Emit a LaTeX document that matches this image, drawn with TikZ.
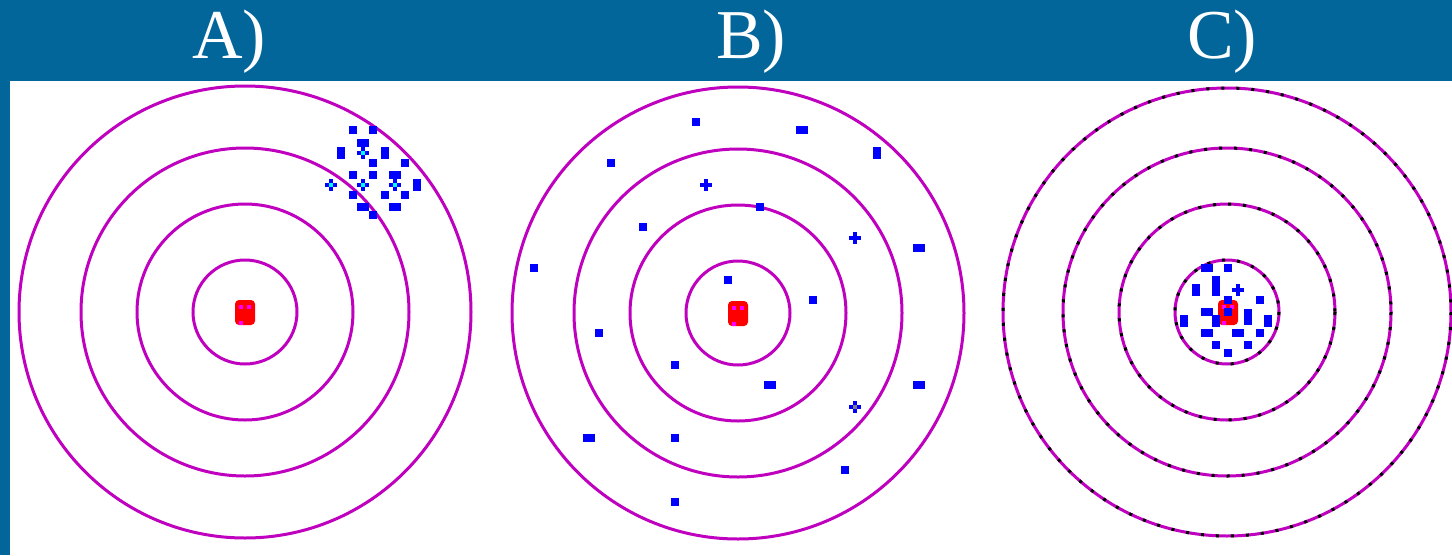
\documentclass[tikz,border=0pt]{standalone}
\usepackage{fontspec}
\setmainfont{Liberation Serif}
\definecolor{hdr}{HTML}{02669A}
\definecolor{ringc}{HTML}{BF00BF}
\definecolor{dotb}{HTML}{0000FF}
\definecolor{dotc}{HTML}{00FFFF}
\definecolor{redd}{HTML}{FF0000}
\definecolor{pinkd}{HTML}{FF00FF}
\tikzset{
  ring/.style={draw=ringc, line width=3pt},
  ringdark/.style={draw=black, line width=3pt, dash pattern=on 3pt off 12pt},
  sqd/.style={rectangle, fill=dotb, inner sep=0pt, minimum width=8pt, minimum height=8pt},
  wd/.style={sqd, minimum width=12pt},
  td/.style={sqd, minimum height=12pt},
  ttd/.style={sqd, minimum height=20pt},
  lbl/.style={text=white, font=\fontsize{70}{70}\selectfont, anchor=base, inner sep=0pt},
  pics/crossdot/.style={code={
    \fill[dotb] (-6,-2) rectangle (6,2);
    \fill[dotb] (-2,-6) rectangle (2,6);
    \fill[#1] (-2,-2) rectangle (2,2);
  }},
  pics/bull/.style={code={
    \fill[redd, rounded corners=4pt] (-10,-12) rectangle (10,13);
    \fill[pinkd] (-6,-7) rectangle (-2,-3);
    \fill[pinkd] (2,-7) rectangle (6,-3);
    \fill[pinkd] (-6,9) rectangle (-2,13);
  }}
}
\begin{document}
\begin{tikzpicture}[x=1pt, y=-1pt]
\useasboundingbox (0,0) rectangle (1452,555);
\fill[white] (0,0) rectangle (1452,555);
\fill[hdr] (0,0) rectangle (1452,81);
\fill[hdr] (0,0) rectangle (10,555);
\node[lbl] (la) at (229,58) {A)};
\node[lbl] (lb) at (751,58) {B)};
\node[lbl] (lc) at (1222,58) {C)};
% target A
\coordinate (ca) at (245,312);
\foreach \r in {52,108,164,226} \draw[ring] (ca) circle (\r);
\pic at (ca) {bull};
\node[sqd] (a1) at (353,130) {};
\node[sqd] (a2) at (373,130) {};
\node[wd] (a3) at (363,143) {};
\pic at (363,153) {crossdot=dotc};
\node[td] (a4) at (341,153) {};
\node[td] (a5) at (385,153) {};
\node[sqd] (a6) at (373,163) {};
\node[sqd] (a7) at (405,163) {};
\node[sqd] (a8) at (353,175) {};
\node[sqd] (a9) at (373,175) {};
\node[wd] (a10) at (395,175) {};
\pic at (331,185) {crossdot=dotc};
\pic at (363,185) {crossdot=dotc};
\pic at (395,185) {crossdot=dotc};
\node[td] (a11) at (417,185) {};
\node[sqd] (a12) at (353,195) {};
\node[sqd] (a13) at (385,195) {};
\node[sqd] (a14) at (405,195) {};
\node[wd] (a15) at (363,207) {};
\node[wd] (a16) at (395,207) {};
\node[sqd] (a17) at (373,215) {};
% target B
\coordinate (cb) at (738,313);
\foreach \r in {52,108,164,226} \draw[ring] (cb) circle (\r);
\pic at (cb) {bull};
\node[sqd] (b1) at (696,122) {};
\node[wd] (b2) at (802,130) {};
\node[td] (b3) at (877,153) {};
\node[sqd] (b4) at (611,163) {};
\pic at (706,185) {crossdot=dotb};
\node[sqd] (b6) at (760,207) {};
\node[sqd] (b7) at (643,227) {};
\pic at (855,238) {crossdot=dotb};
\node[wd] (b9) at (919,248) {};
\node[sqd] (b10) at (534,268) {};
\node[sqd] (b11) at (728,280) {};
\node[sqd] (b12) at (813,300) {};
\node[sqd] (b13) at (599,333) {};
\node[sqd] (b14) at (675,365) {};
\node[wd] (b15) at (770,385) {};
\node[wd] (b16) at (919,385) {};
\pic at (855,407) {crossdot=gray};
\node[wd] (b18) at (589,438) {};
\node[sqd] (b19) at (675,438) {};
\node[sqd] (b20) at (845,470) {};
\node[sqd] (b21) at (675,502) {};
% target C
\coordinate (cc) at (1227,312);
\foreach \r in {52,108,164,224} {\draw[ring] (cc) circle (\r); \draw[ringdark] (cc) circle (\r);}
\pic at (1228,312) {bull};
\node[wd] (c1) at (1207,268) {};
\node[sqd] (c2) at (1228,268) {};
\node[ttd] (c3) at (1216,286) {};
\node[td] (c4) at (1196,290) {};
\pic at (1238,290) {crossdot=dotb};
\node[sqd] (c5) at (1228,300) {};
\node[sqd] (c6) at (1260,300) {};
\node[wd] (c7) at (1207,312) {};
\node[sqd] (c8) at (1228,312) {};
\node[sqd, minimum height=16pt] (c9) at (1248,317) {};
\node[td] (c10) at (1184,321) {};
\node[td] (c11) at (1216,321) {};
\node[td] (c12) at (1268,321) {};
\node[wd] (c13) at (1207,333) {};
\node[wd] (c14) at (1238,333) {};
\node[sqd] (c15) at (1260,333) {};
\node[sqd] (c16) at (1216,345) {};
\node[sqd] (c17) at (1248,345) {};
\node[sqd] (c18) at (1228,353) {};
\end{tikzpicture}
\end{document}
